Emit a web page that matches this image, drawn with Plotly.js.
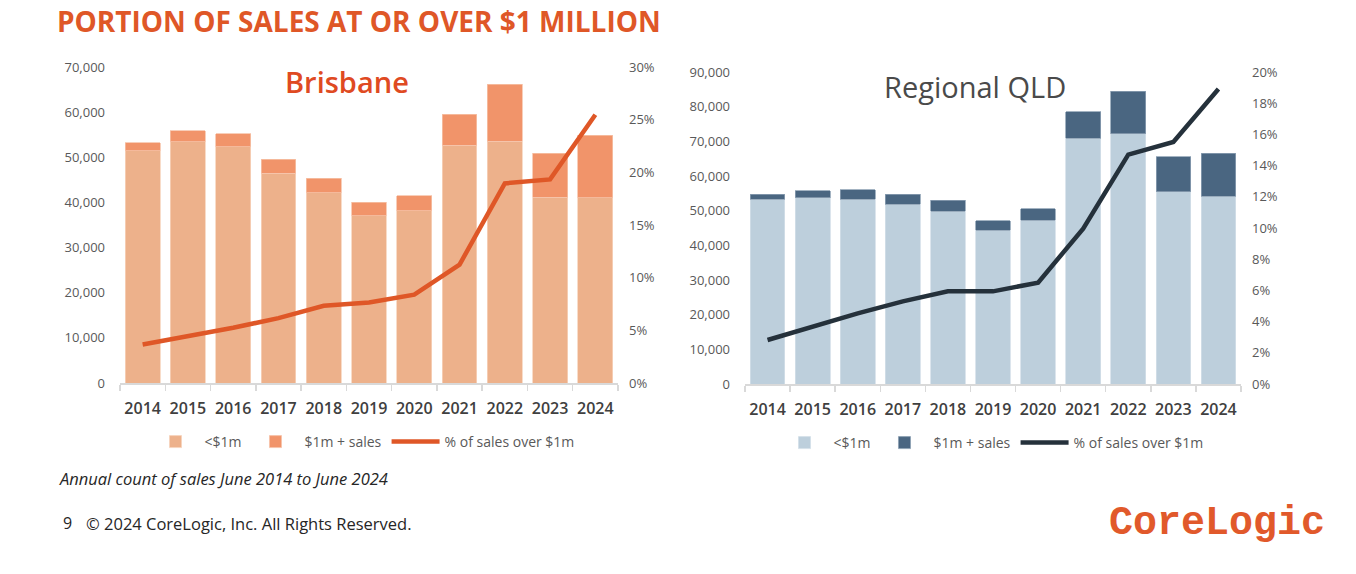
<!DOCTYPE html>
<html>
<head>
<meta charset="utf-8">
<script src="https://cdn.plot.ly/plotly-3.0.1.min.js"></script>
<style>
  html, body { margin: 0; padding: 0; background: #ffffff; }
  #chart { width: 1356px; height: 574px; }
</style>
</head>
<body>
<div id="chart"></div>
<script>
// ---- Data ----
const years = ['2014','2015','2016','2017','2018','2019','2020','2021','2022','2023','2024'];

const brisUnder1m = [51400, 53400, 52300, 46500, 42100, 37000, 38200, 52700, 53600, 41200, 41000];
const brisOver1m  = [1800, 2500, 2900, 3100, 3300, 3000, 3300, 6800, 12600, 9700, 13900];
const brisPctOver = [0.0365, 0.0441, 0.0524, 0.0616, 0.0733, 0.0765, 0.0838, 0.1124, 0.1895, 0.1933, 0.2546];

const qldUnder1m = [53300, 53750, 53300, 51900, 49900, 44300, 47200, 70900, 72200, 55500, 54100];
const qldOver1m  = [1500, 2050, 2800, 2800, 3100, 2800, 3300, 7700, 12300, 10000, 12500];
const qldPctOver = [0.0282, 0.0370, 0.0453, 0.0530, 0.0594, 0.0594, 0.0650, 0.0996, 0.1470, 0.1551, 0.1891];

const legendLabels = ['<$1m', '$1m + sales', '% of sales over $1m'];

// ---- Styles ----
const FONT = 'Open Sans, Lato, sans-serif';
const brisColors = { under: '#EDB18B', over: '#F1946A', line: '#DF5727' };
const qldColors  = { under: '#BDCFDC', over: '#4A6681', line: '#25313B' };

const traces = [
  { type: 'bar', x: years, y: brisUnder1m, name: legendLabels[0], xaxis: 'x', yaxis: 'y',
    marker: { color: brisColors.under, line: { color: '#F6D3BC', width: 0.8 } }, legend: 'legend' },
  { type: 'bar', x: years, y: brisOver1m, name: legendLabels[1], xaxis: 'x', yaxis: 'y',
    marker: { color: brisColors.over, line: { color: '#F6C2A8', width: 0.8 } }, legend: 'legend' },
  { type: 'scatter', mode: 'lines', x: years, y: brisPctOver, name: legendLabels[2], xaxis: 'x', yaxis: 'y2',
    line: { color: brisColors.line, width: 4.5 }, legend: 'legend' },

  { type: 'bar', x: years, y: qldUnder1m, name: legendLabels[0], xaxis: 'x2', yaxis: 'y3',
    marker: { color: qldColors.under, line: { color: '#D3DFE8', width: 0.8 } }, legend: 'legend2' },
  { type: 'bar', x: years, y: qldOver1m, name: legendLabels[1], xaxis: 'x2', yaxis: 'y3',
    marker: { color: qldColors.over, line: { color: '#8CA0B3', width: 0.8 } }, legend: 'legend2' },
  { type: 'scatter', mode: 'lines', x: years, y: qldPctOver, name: legendLabels[2], xaxis: 'x2', yaxis: 'y4',
    line: { color: qldColors.line, width: 4.5 }, legend: 'legend2' }
];

const W = 1356, H = 574;
const px = v => v / W;
const py = v => 1 - v / H;

const xCommon = {
  type: 'category', showgrid: false, zeroline: false,
  showline: true, linecolor: '#D9D9D9', linewidth: 1.5,
  ticks: 'outside', tickson: 'boundaries', ticklen: 6, tickcolor: '#D9D9D9', tickwidth: 1.5,
  tickfont: { family: FONT, size: 16, color: '#404040', weight: 600 },
  tickangle: 0, ticklabelstandoff: 10
};
const yLeftCommon = {
  showgrid: false, zeroline: false, showline: false, ticks: '',
  tickfont: { family: FONT, size: 13, color: '#595959' },
  tickformat: ',', ticklabelstandoff: 14
};
const yRightCommon = {
  showgrid: false, zeroline: false, showline: false, ticks: '',
  tickfont: { family: FONT, size: 13, color: '#595959' },
  tickformat: '.0%', side: 'right', ticklabelstandoff: 10
};

const layout = {
  width: W, height: H,
  margin: { l: 0, r: 0, t: 0, b: 0 },
  paper_bgcolor: '#ffffff', plot_bgcolor: 'rgba(0,0,0,0)',
  barmode: 'stack', bargap: 0.23,
  showlegend: true,
  font: { family: FONT, color: '#404040' },
  title: {
    text: 'PORTION OF SALES AT OR OVER $1 MILLION',
    x: px(57), xanchor: 'left', xref: 'paper',
    y: py(22), yanchor: 'middle', yref: 'paper',
    font: { family: FONT, size: 28, color: '#DF5727', weight: 700 }
  },
  xaxis:  Object.assign({}, xCommon, { domain: [px(120), px(618)], anchor: 'y' }),
  yaxis:  Object.assign({}, yLeftCommon, { domain: [py(383), py(67)], range: [0, 70000], dtick: 10000, anchor: 'x' }),
  yaxis2: Object.assign({}, yRightCommon, { overlaying: 'y', anchor: 'x', range: [0, 0.30], dtick: 0.05 }),
  xaxis2: Object.assign({}, xCommon, { domain: [px(745), px(1241)], anchor: 'y3' }),
  yaxis3: Object.assign({}, yLeftCommon, { domain: [py(384), py(72)], range: [0, 90000], dtick: 10000, anchor: 'x2' }),
  yaxis4: Object.assign({}, yRightCommon, { overlaying: 'y3', anchor: 'x2', range: [0, 0.20], dtick: 0.02 }),
  legend: {
    orientation: 'h', x: px(363), xanchor: 'center', y: py(442), yanchor: 'middle',
    traceorder: 'normal', font: { family: FONT, size: 14, color: '#595959' },
    itemwidth: 48, bgcolor: 'rgba(0,0,0,0)'
  },
  legend2: {
    orientation: 'h', x: px(992), xanchor: 'center', y: py(443), yanchor: 'middle',
    traceorder: 'normal', font: { family: FONT, size: 14, color: '#595959' },
    itemwidth: 48, bgcolor: 'rgba(0,0,0,0)'
  },
  annotations: [
    { text: 'Brisbane', xref: 'paper', yref: 'paper', x: px(347), y: py(81), xanchor: 'center', yanchor: 'middle',
      showarrow: false, font: { family: FONT, size: 29, color: '#DF4A22', weight: 600 } },
    { text: 'Regional QLD', xref: 'paper', yref: 'paper', x: px(975), y: py(86), xanchor: 'center', yanchor: 'middle',
      showarrow: false, font: { family: FONT, size: 29, color: '#4A4A4A', weight: 400 } },
    { text: '<i>Annual count of sales June 2014 to June 2024</i>', xref: 'paper', yref: 'paper', x: px(57), y: py(478),
      xanchor: 'left', yanchor: 'middle', showarrow: false, font: { family: FONT, size: 16.5, color: '#262626' } },
    { text: '9', xref: 'paper', yref: 'paper', x: px(61), y: py(523), xanchor: 'left', yanchor: 'middle',
      showarrow: false, font: { family: FONT, size: 16, color: '#262626' } },
    { text: '© 2024 CoreLogic, Inc. All Rights Reserved.', xref: 'paper', yref: 'paper', x: px(84), y: py(523),
      xanchor: 'left', yanchor: 'middle', showarrow: false, font: { family: FONT, size: 16.5, color: '#262626' } },
    { text: 'CoreLogic', xref: 'paper', yref: 'paper', x: px(1217), y: py(523), xanchor: 'center', yanchor: 'middle',
      showarrow: false, font: { family: 'Liberation Mono, DejaVu Sans Mono, monospace', size: 40, color: '#E1592B', weight: 700 } }
  ]
};

Plotly.newPlot('chart', traces, layout, { staticPlot: true, displayModeBar: false });
</script>
</body>
</html>
